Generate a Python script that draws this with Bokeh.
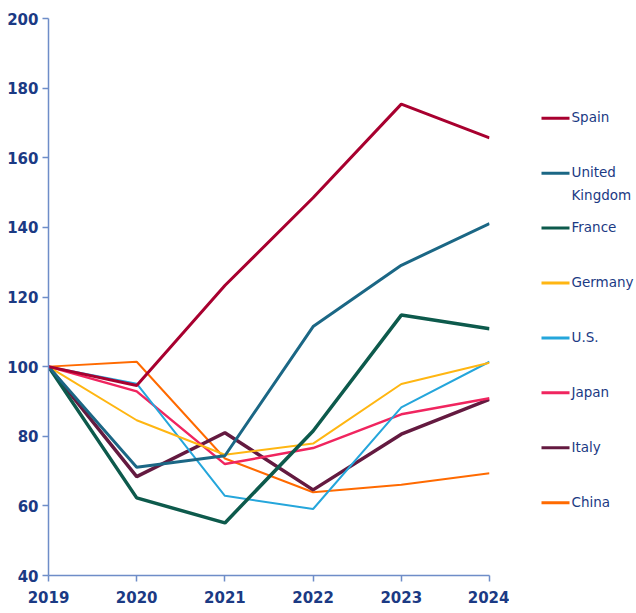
from bokeh.plotting import figure
from bokeh.layouts import row
from bokeh.models import ColumnDataSource, FixedTicker
from bokeh.core.properties import value
from bokeh.embed import file_html
from bokeh.resources import INLINE

years = [2019, 2020, 2021, 2022, 2023, 2024]
names = ["Spain", "United\nKingdom", "France", "Germany", "U.S.", "Japan", "Italy", "China"]
spain = [100, 94.6, 123.3, 148.5, 175.4, 165.7]
uk = [100, 71.1, 74.4, 111.5, 129.1, 141.1]
france = [100, 62.3, 55.1, 81.5, 114.8, 110.9]
germany = [100, 84.6, 74.7, 77.9, 95.0, 101.1]
us = [100, 95.1, 62.9, 59.1, 88.3, 101.4]
japan = [100, 92.9, 72.0, 76.6, 86.3, 90.9]
italy = [100, 68.4, 81.0, 64.6, 80.6, 90.6]
china = [100, 101.4, 73.6, 63.9, 66.1, 69.4]
y_ticks = [40, 60, 80, 100, 120, 140, 160, 180, 200]

series = [spain, uk, france, germany, us, japan, italy, china]
colors = ["#A8002F", "#1B6785", "#0D5A4C", "#FFB612", "#25A6DB", "#F0255F", "#641A40", "#FF6A00"]
widths = [3, 3, 3.5, 2, 2, 2.5, 3.5, 2]

TEXT = "#1B3A84"
AXIS = "#6E8DC8"
FONT = "DejaVu Sans"

H = 605
p = figure(width=509, height=H, x_range=(2019, 2024), y_range=(40, 200),
           output_backend="svg", toolbar_location=None,
           min_border_left=48, min_border_right=20, min_border_top=18, min_border_bottom=28)
p.outline_line_color = None
p.grid.grid_line_color = None

for s, c, w in reversed(list(zip(series, colors, widths))):
    p.line(years, s, line_color=c, line_width=w)

for ax in (p.xaxis, p.yaxis):
    ax.axis_line_color = AXIS
    ax.axis_line_width = 1.5
    ax.major_tick_line_color = AXIS
    ax.major_tick_line_width = 1.5
    ax.major_tick_out = 6
    ax.major_tick_in = 0
    ax.minor_tick_line_color = None
    ax.major_label_text_color = TEXT
    ax.major_label_text_font = FONT
    ax.major_label_text_font_size = "15px"
    ax.major_label_text_font_style = "bold"
p.xaxis.ticker = FixedTicker(ticks=years)
p.yaxis.ticker = FixedTicker(ticks=y_ticks)
p.xaxis.major_label_standoff = 9
p.yaxis.major_label_standoff = 4

# legend panel (its frame is aligned with the main frame by the row layout)
lg = figure(width=125, height=H, x_range=(0, 125), y_range=(576, 18),
            output_backend="svg", toolbar_location=None,
            x_axis_location=None, y_axis_location=None, min_border=0)
lg.outline_line_color = None
lg.grid.grid_line_color = None

row_y = [118 + 55 * i for i in range(len(names))]
src = ColumnDataSource(dict(x0=[32] * len(names), x1=[60] * len(names), y=row_y,
                            ty=[y - 9 for y in row_y], tx=[62] * len(names),
                            name=names, color=colors))
lg.segment(x0="x0", y0="y", x1="x1", y1="y", line_color="color", line_width=3, source=src)
lg.text(x="tx", y="ty", text="name", source=src, text_color=TEXT,
        text_font=value(FONT), text_font_size="13.5px", text_baseline="top",
        text_line_height=1.4)

layout = row(p, lg)
open("out.html", "w").write(file_html(layout, INLINE))
